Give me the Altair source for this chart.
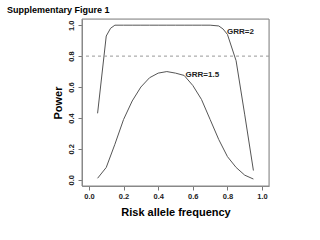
import altair as alt
import pandas as pd

freq2 = [0.05, 0.10, 0.125, 0.15, 0.20, 0.25, 0.30, 0.35, 0.40, 0.45, 0.50, 0.55, 0.60, 0.65, 0.70, 0.75, 0.775, 0.80, 0.85, 0.90, 0.95]
power2 = [0.43, 0.93, 0.98, 1.0, 1.0, 1.0, 1.0, 1.0, 1.0, 1.0, 1.0, 1.0, 1.0, 1.0, 1.0, 0.995, 0.975, 0.94, 0.77, 0.42, 0.06]

freq15 = [0.05, 0.10, 0.15, 0.20, 0.25, 0.30, 0.35, 0.40, 0.45, 0.50, 0.55, 0.60, 0.65, 0.70, 0.75, 0.80, 0.85, 0.90, 0.95]
power15 = [0.01, 0.08, 0.23, 0.39, 0.51, 0.60, 0.66, 0.69, 0.70, 0.69, 0.675, 0.61, 0.52, 0.39, 0.26, 0.15, 0.08, 0.03, 0.005]

label_text = ["GRR=2", "GRR=1.5"]
label_x = [0.875, 0.655]
label_y = [0.955, 0.68]
threshold = [0.8]
frame_x = [-0.04, 1.04]
frame_y = [-0.04, 1.04]

df = pd.concat([
    pd.DataFrame({"freq": freq2, "power": power2, "grr": "2"}),
    pd.DataFrame({"freq": freq15, "power": power15, "grr": "1.5"}),
])
lab = pd.DataFrame({"text": label_text, "x": label_x, "y": label_y})
thr = pd.DataFrame({"y": threshold})
frame = pd.DataFrame({"x": [frame_x[0]], "x2": [frame_x[1]], "y": [frame_y[0]], "y2": [frame_y[1]]})

xs = alt.Scale(domain=frame_x, nice=False, zero=False)
ys = alt.Scale(domain=frame_y, nice=False, zero=False)
ticks = [0.0, 0.2, 0.4, 0.6, 0.8, 1.0]

xaxis = alt.Axis(values=ticks, format=".1f", grid=False, domain=True, domainColor="#888",
                 tickSize=4, tickColor="#777", labelFontSize=7.5, labelColor="#222",
                 labelPadding=2, labelFont="Liberation Sans", labelFontWeight="bold",
                 labelOverlap=False,
                 title="Risk allele frequency", titleFontSize=11, titleFont="Liberation Sans",
                 titleFontWeight="bold", titleBaseline="middle", titleY=26, titleColor="#000")
yaxis = alt.Axis(values=ticks, format=".1f", grid=False, domain=True, domainColor="#888",
                 tickSize=4, tickColor="#777", labelFontSize=7.5, labelColor="#222",
                 labelAngle=-90, labelAlign="center", labelBaseline="bottom", labelPadding=3,
                 labelFont="Liberation Sans", labelFontWeight="bold", labelOverlap=False,
                 title="Power", titleFontSize=11, titleFont="Liberation Sans",
                 titleFontWeight="bold", titleBaseline="middle", titleX=-24, titleColor="#000")

box = alt.Chart(frame).mark_rect(fillOpacity=0, stroke="#888", strokeOpacity=1, strokeWidth=1).encode(
    x=alt.X("x:Q", scale=xs, axis=xaxis), x2="x2:Q",
    y=alt.Y("y:Q", scale=ys, axis=yaxis), y2="y2:Q",
)
lines = alt.Chart(df).mark_line(color="#555", strokeWidth=1).encode(
    x=alt.X("freq:Q", scale=xs, axis=xaxis),
    y=alt.Y("power:Q", scale=ys, axis=yaxis),
    detail="grr:N",
)
rule = alt.Chart(thr).mark_rule(color="#999", strokeDash=[3, 3], strokeWidth=1).encode(
    y=alt.Y("y:Q", scale=ys, axis=yaxis)
)
texts = alt.Chart(lab).mark_text(font="Liberation Sans", fontSize=8, fontWeight="bold",
                                 color="#222", align="center", baseline="middle").encode(
    x=alt.X("x:Q", scale=xs, axis=xaxis), y=alt.Y("y:Q", scale=ys, axis=yaxis), text="text:N"
)

chart = alt.layer(box, lines, rule, texts).properties(
    width=187, height=167,
    autosize=alt.AutoSizeParams(type="none"),
    padding={"left": 82, "top": 19, "right": 51, "bottom": 54},
    title=alt.TitleParams("Supplementary Figure 1", anchor="start", frame="group",
                          font="Liberation Sans", fontSize=9, fontWeight="bold",
                          color="#000", dx=-75, dy=10, offset=5, baseline="bottom"),
).configure_view(stroke="#888", strokeWidth=1).configure(background="white")

chart.save("out.html", embed_options={"renderer": "svg", "actions": False})
